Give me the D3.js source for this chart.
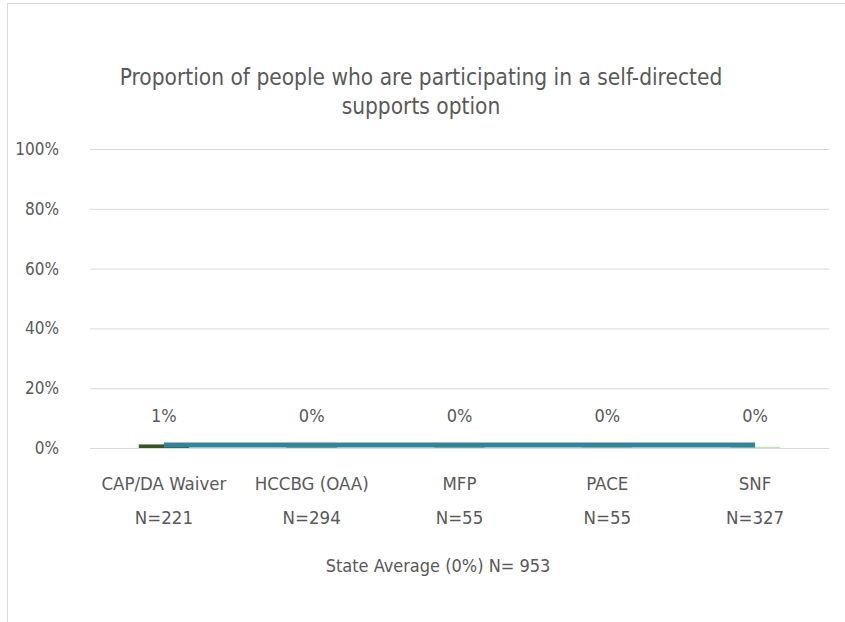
<!DOCTYPE html>
<html>
<head>
	<meta charset="utf-8">
	<title>Self-directed supports</title>
	<script src="https://cdn.jsdelivr.net/npm/d3@7"></script>
</head>
<style type="text/css">
body { margin: 0; background: #fff; }
text { font-family: "Liberation Sans Narrow", "DejaVu Sans Condensed", "Noto Sans", sans-serif; fill: #595959; }
</style>
<body>
</body>
<script type="text/javascript">
	// data
	var categories = ["CAP/DA Waiver", "HCCBG (OAA)", "MFP", "PACE", "SNF"];
	var counts = [221, 294, 55, 55, 327];
	var values = [0.012, 0.002, 0.002, 0.002, 0.004];
	var valueLabels = ["1%", "0%", "0%", "0%", "0%"];
	var barColors = ["#375623", "#548235", "#70ad47", "#a9d18e", "#c5e0b4"];
	var stateAvg = 0.01;
	var stateLabel = "State Average (0%) N= 953";
	var yTicks = [0, 0.2, 0.4, 0.6, 0.8, 1];
	var title = ["Proportion of people who are participating in a self-directed", "supports option"];

	var w = 845, h = 622;
	var svg = d3.select("body").append("svg").attr("width", w).attr("height", h);

	// chart frame
	svg.append("rect").attr("x", 7.5).attr("y", 3.5).attr("width", 900).attr("height", 700)
		.attr("fill", "none").attr("stroke", "#d9d9d9");

	var pLeft = 90, pRight = 829, pTop = 149, pBottom = 448;

	var x = d3.scaleBand().domain(categories).range([pLeft, pRight])
				.paddingInner(0.66).paddingOuter(0.33);
	var y = d3.scaleLinear().domain([0, 1]).range([pBottom, pTop]);

	svg.selectAll(".title").data(title).enter().append("text")
		.attr("class", "title")
		.attr("x", 421)
		.attr("y", function(d, i){ return 85 + i * 29; })
		.attr("text-anchor", "middle")
		.attr("font-size", 22.5)
		.text(function(d){ return d; });

	// gridlines + y labels
	var yAxis = svg.append("g").attr("transform", "translate(" + pLeft + ",0)")
		.call(d3.axisLeft(y).tickValues(yTicks).tickFormat(d3.format(".0%"))
			.tickSize(-(pRight - pLeft)).tickPadding(31));
	yAxis.select(".domain").remove();
	yAxis.selectAll("line").attr("stroke", "#d9d9d9");
	yAxis.selectAll("text").attr("font-size", 17).attr("fill", "#595959")
		.style("font-family", "\"Liberation Sans Narrow\", \"DejaVu Sans Condensed\", sans-serif");

	// bars
	svg.selectAll(".bar").data(values).enter().append("rect")
		.attr("class", "bar")
		.attr("x", function(d, i){ return x(categories[i]); })
		.attr("y", function(d){ return y(d); })
		.attr("width", x.bandwidth())
		.attr("height", function(d){ return y(0) - y(d); })
		.attr("fill", function(d, i){ return barColors[i]; });

	// state average line
	var line = d3.line()
		.x(function(d){ return x(d) + x.bandwidth() / 2; })
		.y(function(){ return y(stateAvg); });
	svg.append("path").datum(categories)
		.attr("d", line)
		.attr("fill", "none")
		.attr("stroke", "#31849b")
		.attr("stroke-width", 5);

	// value labels
	svg.selectAll(".vlab").data(valueLabels).enter().append("text")
		.attr("class", "vlab")
		.attr("x", function(d, i){ return x(categories[i]) + x.bandwidth() / 2; })
		.attr("y", 422)
		.attr("text-anchor", "middle")
		.attr("font-size", 18)
		.attr("fill", "#404040")
		.text(function(d){ return d; });

	// category labels
	var cat = svg.selectAll(".cat").data(categories).enter().append("text")
		.attr("class", "cat")
		.attr("text-anchor", "middle")
		.attr("font-size", 18.5);
	cat.append("tspan")
		.attr("x", function(d){ return x(d) + x.bandwidth() / 2; })
		.attr("y", 490)
		.text(function(d){ return d; });
	cat.append("tspan")
		.attr("x", function(d){ return x(d) + x.bandwidth() / 2; })
		.attr("y", 524)
		.text(function(d, i){ return "N=" + counts[i]; });

	svg.append("text")
		.attr("x", 438)
		.attr("y", 572)
		.attr("text-anchor", "middle")
		.attr("font-size", 18)
		.text(stateLabel);
</script>
</html>
